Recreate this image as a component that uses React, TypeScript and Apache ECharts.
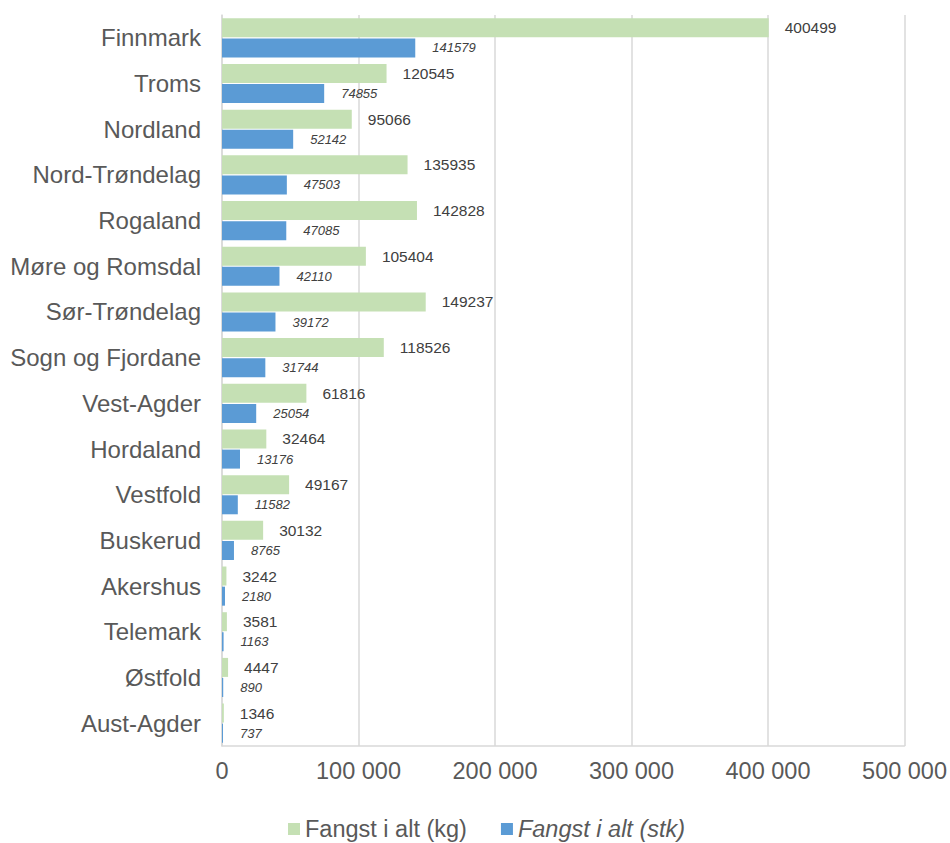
import React, { useEffect, useRef } from "react";
import * as echarts from "echarts";

const categories = [
  "Finnmark", "Troms", "Nordland", "Nord-Trøndelag", "Rogaland", "Møre og Romsdal",
  "Sør-Trøndelag", "Sogn og Fjordane", "Vest-Agder", "Hordaland", "Vestfold",
  "Buskerud", "Akershus", "Telemark", "Østfold", "Aust-Agder",
];
const kgValues = [400499, 120545, 95066, 135935, 142828, 105404, 149237, 118526, 61816, 32464, 49167, 30132, 3242, 3581, 4447, 1346];
const stkValues = [141579, 74855, 52142, 47503, 47085, 42110, 39172, 31744, 25054, 13176, 11582, 8765, 2180, 1163, 890, 737];
const seriesNames = ["Fangst i alt (kg)", "Fangst i alt (stk)"];

const FONT = "'Liberation Sans', Arial, sans-serif";

export default function App() {
  const ref = useRef<HTMLDivElement>(null);
  useEffect(() => {
    if (!ref.current) return;
    const chart = echarts.init(ref.current, null, { renderer: "svg" });
    chart.setOption({
      animation: false,
      textStyle: { fontFamily: FONT },
      grid: { left: 222, right: 44, top: 15, bottom: 97, containLabel: false },
      legend: {
        top: 817,
        left: 288,
        padding: 0,
        itemWidth: 12,
        itemHeight: 12,
        itemGap: 34,
        icon: "rect",
        textStyle: { fontSize: 23.5, color: "#595959", fontFamily: FONT },
        data: [
          { name: seriesNames[0] },
          { name: seriesNames[1], textStyle: { fontStyle: "italic" } },
        ],
      },
      xAxis: {
        type: "value",
        min: 0,
        max: 500000,
        interval: 100000,
        axisLine: { show: true, lineStyle: { color: "#d9d9d9", width: 1.5 } },
        axisTick: { show: false },
        splitLine: { show: true, lineStyle: { color: "#d9d9d9", width: 1.5 } },
        axisLabel: {
          fontSize: 23.5,
          color: "#595959",
          margin: 13,
          fontFamily: FONT,
          formatter: (v: number) => String(v).replace(/\B(?=(\d{3})+(?!\d))/g, " "),
        },
      },
      yAxis: {
        type: "category",
        data: categories,
        inverse: true,
        axisLine: { show: true, lineStyle: { color: "#d9d9d9", width: 1.5 } },
        axisTick: { show: false },
        axisLabel: { fontSize: 24, color: "#595959", margin: 21, fontFamily: FONT },
      },
      series: [
        {
          name: seriesNames[0],
          type: "bar",
          data: kgValues,
          barWidth: 19,
          barGap: "6%",
          itemStyle: { color: "#c5e0b4" },
          label: {
            show: true,
            position: "right",
            distance: 16,
            fontSize: 15.5,
            color: "#404040",
            fontFamily: FONT,
          },
        },
        {
          name: seriesNames[1],
          type: "bar",
          data: stkValues,
          barWidth: 19,
          barGap: "6%",
          itemStyle: { color: "#5b9bd5" },
          label: {
            show: true,
            position: "right",
            distance: 17,
            fontSize: 13,
            fontStyle: "italic",
            color: "#404040",
            fontFamily: FONT,
          },
        },
      ],
    });
    return () => chart.dispose();
  }, []);
  return (
    <div
      ref={ref}
      style={{ position: "absolute", left: 0, top: 0, width: 950, height: 843 }}
    />
  );
}
